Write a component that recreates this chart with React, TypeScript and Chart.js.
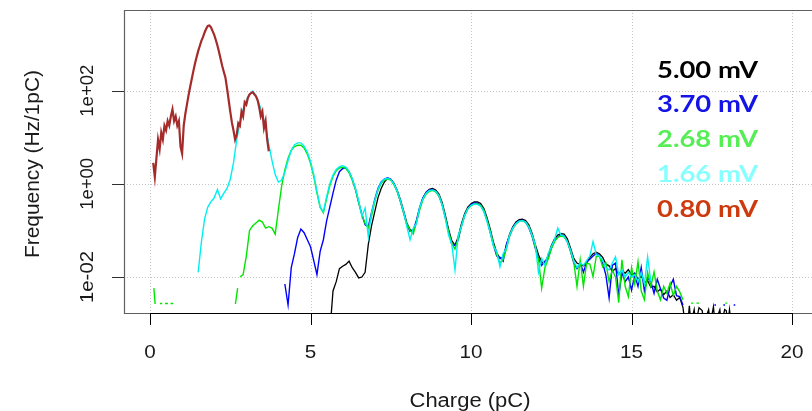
import { useEffect, useRef } from 'react';
import { Chart, registerables } from 'chart.js';

Chart.register(...registerables);

// ---- axis / legend text ----
const xTicks = [0, 5, 10, 15, 20];
const yTicks = [1e-2, 1, 1e2];
const yTickLabels = ['1e-02', '1e+00', '1e+02'];
const xTitle = 'Charge (pC)';
const yTitle = 'Frequency (Hz/1pC)';
const legendLabels = ['5.00 mV', '3.70 mV', '2.68 mV', '1.66 mV', '0.80 mV'];
const legendColors = ['#000000', '#1414e6', '#55ee55', '#88ffff', '#cc3a0e'];

// ---- data: log10(frequency) on a regular charge grid ----
const brownStart = 0.1;
const brownStep = 0.05;
const log080 = [0.45, 0.15, 0.55, 0.95, 0.75, 1.1, 0.95, 1.25, 1.15, 1.35, 1.25, 1.45, 1.6, 1.35, 1.45, 1.25, 1.35, 0.8, 0.65, 1.25,
  1.5, 1.7, 1.9, 2.08, 2.25, 2.42, 2.58, 2.72, 2.85, 2.96, 3.07, 3.15, 3.25, 3.33, 3.39, 3.4, 3.36, 3.28, 3.2, 3.09,
  2.97, 2.83, 2.68, 2.53, 2.4, 2.28, 2.05, 1.8, 1.55, 1.32, 1.15, 0.95, 1.05, 1.3, 1.25, 1.55, 1.45, 1.75, 1.7, 1.85,
  1.92, 1.95, 1.97, 1.92, 1.88, 1.8, 1.65, 1.45, 1.55, 1.2, 1.35, 0.95, 0.7];

const gridStep = 0.1;
const cyanStart = 1.5;
const log166 = [-1.9, -1.25, -0.75, -0.5, -0.38, -0.3, -0.12, -0.32, -0.2, -0.1, 0.1, 0.45, 0.95, 1.3, 1.6, 1.8, 1.92, 1.99, 1.9, 1.72,
  1.5, 1.22, 0.85, 0.5, 0.2, 0.04, 0.08, 0.25, 0.5, 0.72, 0.84, 0.88, 0.88, 0.81, 0.68, 0.48, 0.2, -0.16, -0.5, -0.6,
  -0.28, 0.0, 0.19, 0.31, 0.37, 0.39, 0.36, 0.27, 0.11, -0.1, -0.36, -0.7, -0.52, -1.13, -0.62, -0.36, -0.12, 0.03, 0.1, 0.12,
  0.09, 0.0, -0.15, -0.36, -0.6, -0.92, -1.2, -0.95, -0.85, -0.5, -0.32, -0.2, -0.14, -0.13, -0.16, -0.25, -0.45, -0.75, -1.1, -1.3,
  -1.85, -1.1, -0.92, -0.68, -0.53, -0.46, -0.43, -0.44, -0.48, -0.6, -0.82, -1.05, -1.35, -1.45, -1.78, -1.5, -1.38, -1.1, -0.95, -0.85,
  -0.8, -0.79, -0.82, -0.93, -1.1, -1.3, -1.9, -1.6, -1.75, -1.5, -1.35, -1.2, -0.95, -1.1, -1.12, -1.25, -1.42, -1.65, -1.8, -1.7,
  -1.75, -1.65, -1.55, -1.24, -1.52, -1.55, -1.65, -1.8, -1.85, -1.7, -1.57, -1.95, -1.85, -2.0, -1.9, -2.0, -1.95, -2.1, -1.9, -2.15,
  -1.57, -2.1];

const greenStart = 2.8;
const log268 = [-2.0, -1.95, -1.55, -1.0, -0.9, -0.84, -0.78, -0.82, -0.95, -0.92, -0.95, -1.08, -0.55, -0.05, 0.3, 0.55, 0.72, 0.8, 0.83, 0.83,
  0.77, 0.64, 0.44, 0.16, -0.2, -0.5, -0.62, -0.32, -0.04, 0.16, 0.28, 0.34, 0.36, 0.33, 0.24, 0.08, -0.12, -0.4, -0.66, -0.85,
  -0.95, -0.7, -0.38, -0.14, 0.01, 0.08, 0.1, 0.08, -0.02, -0.17, -0.37, -0.62, -0.86, -1.0, -1.08, -0.82, -0.55, -0.34, -0.22, -0.16,
  -0.14, -0.17, -0.26, -0.44, -0.72, -1.02, -1.28, -1.4, -1.18, -0.9, -0.68, -0.54, -0.47, -0.43, -0.43, -0.46, -0.57, -0.78, -1.02, -1.3,
  -1.52, -1.7, -1.62, -1.4, -1.12, -0.96, -0.86, -0.8, -0.79, -0.82, -0.92, -1.1, -1.36, -1.62, -2.24, -1.8, -1.62, -1.4, -1.24, -1.15,
  -1.12, -1.14, -1.24, -1.45, -1.68, -2.2, -1.63, -2.2, -1.7, -1.72, -1.99, -1.56, -1.55, -1.78, -1.7, -2.1, -1.85, -2.0, -2.55, -1.63,
  -2.2, -2.42, -1.8, -2.15, -1.67, -2.3, -2.49, -1.9, -2.2, -1.89, -2.3, -2.49, -2.2, -2.35, -2.13, -2.4, -2.2, -2.32, -2.49];
const bits268: ([number, number] | null)[] = [
  [0.12, -2.24], [0.16, -2.58], null,
  [0.31, -2.57], [0.38, -2.57], null,
  [0.47, -2.57], [0.56, -2.57], null,
  [0.64, -2.57], [0.72, -2.57], null,
  [2.66, -2.58], [2.73, -2.24], null,
  [16.85, -2.56], [16.92, -2.56], null,
  [17.02, -2.56], [17.1, -2.56], null,
  [17.92, -2.56], [17.98, -2.56],
];

const blueStart = 4.2;
const log370 = [-2.15, -2.6, -1.8, -1.5, -1.15, -0.97, -1.05, -1.2, -1.35, -1.65, -1.95, -1.45, -1.2, -0.8, -0.5, -0.2, 0.08, 0.26, 0.33, 0.34,
  0.26, 0.1, -0.12, -0.4, -0.66, -0.88, -0.92, -0.62, -0.34, -0.1, 0.04, 0.1, 0.13, 0.1, 0.0, -0.16, -0.38, -0.62, -0.88, -1.02,
  -1.0, -0.78, -0.5, -0.3, -0.19, -0.13, -0.12, -0.16, -0.26, -0.45, -0.72, -1.02, -1.3, -1.32, -1.2, -0.9, -0.68, -0.53, -0.45, -0.41,
  -0.42, -0.46, -0.58, -0.78, -1.05, -1.32, -1.55, -1.58, -1.66, -1.3, -1.12, -0.95, -0.84, -0.79, -0.78, -0.82, -0.94, -1.12, -1.38, -1.6,
  -1.75, -1.66, -1.6, -1.38, -1.22, -1.14, -1.1, -1.12, -1.24, -1.45, -1.7, -1.82, -1.7, -1.9, -1.68, -1.62, -1.55, -1.5, -1.55, -1.7,
  -1.96, -2.45, -1.75, -1.7, -2.4, -1.9, -2.1, -2.0, -2.28, -1.95, -2.2, -1.8, -2.3, -2.02, -2.1, -2.35, -2.05, -2.25, -2.45, -2.5,
  -2.2, -2.05, -2.4, -2.42, -2.6];
const bits370: ([number, number] | null)[] = [
  [17.58, -2.6], [17.63, -2.6], null,
  [17.86, -2.6], [17.91, -2.6], null,
  [18.18, -2.6], [18.23, -2.6],
];

const blackStart = 5.6;
const log500 = [-3.2, -2.3, -2.1, -1.82, -1.77, -1.73, -1.66, -1.8, -1.9, -2.02, -2.0, -1.9, -1.3, -0.9, -0.6, -0.3, -0.1, 0.04, 0.12, 0.1,
  0.01, -0.14, -0.34, -0.58, -0.84, -0.98, -1.02, -0.82, -0.53, -0.31, -0.18, -0.12, -0.1, -0.13, -0.22, -0.4, -0.68, -0.98, -1.22, -1.32,
  -1.14, -0.86, -0.64, -0.5, -0.43, -0.39, -0.39, -0.42, -0.53, -0.73, -0.98, -1.26, -1.48, -1.6, -1.58, -1.33, -1.08, -0.92, -0.82, -0.77,
  -0.76, -0.79, -0.88, -1.06, -1.3, -1.52, -1.68, -1.7, -1.55, -1.33, -1.18, -1.1, -1.07, -1.08, -1.18, -1.38, -1.6, -1.7, -1.74, -1.76,
  -1.7, -1.58, -1.5, -1.47, -1.5, -1.58, -1.72, -1.76, -1.88, -1.82, -1.94, -1.86, -1.92, -1.84, -1.96, -1.92, -2.05, -1.98, -2.12, -2.08,
  -2.22, -2.2, -2.32, -2.26, -2.38, -2.3, -2.44, -2.38, -2.5, -2.44, -2.65, -3.2];
const bits500: ([number, number] | null)[] = [
  [16.75, -3.0], [16.8, -2.62], [16.85, -3.0], [16.95, -2.7], [17.0, -3.0], [17.1, -2.66], [17.2, -2.72], [17.25, -3.0],
  [17.4, -2.7], [17.45, -3.0], [17.55, -2.64], [17.6, -3.0], [17.75, -2.7], [17.8, -3.0], [17.9, -2.7], [17.95, -2.72],
  [18.0, -3.0], [18.05, -2.7], [18.1, -3.0],
];

// ---- plot frame geometry ----
const W = 812;
const H = 411;
const PLOT_LEFT = 124;
const PLOT_TOP = 10;
const PLOT_BOTTOM = 313;
const X_MIN = -0.81;
const X_MAX = 20.62;
const LOG_MIN = -2.773;
const LOG_MAX = 3.733;

function toSeries(start: number, step: number, logs: number[]) {
  return logs.map((v, i) => ({ x: +(start + i * step).toFixed(3), y: Math.pow(10, v) }));
}
function toBits(pairs: ([number, number] | null)[]) {
  const out: { x: number; y: number | null }[] = [];
  let last = 0;
  for (const p of pairs) {
    if (p === null) out.push({ x: last + 0.001, y: null });
    else {
      last = p[0];
      out.push({ x: p[0], y: Math.pow(10, p[1]) });
    }
  }
  return out;
}

function drawFit(
  ctx: CanvasRenderingContext2D, text: string, x: number, y: number, font: string,
  width: number | null, align: CanvasTextAlign, rot: number, color: string,
) {
  ctx.save();
  ctx.font = font;
  ctx.fillStyle = color;
  const w = ctx.measureText(text).width;
  const sx = width ? width / w : 1;
  ctx.translate(x, y);
  if (rot) ctx.rotate(rot);
  ctx.scale(sx, 1);
  ctx.textAlign = align;
  ctx.textBaseline = 'alphabetic';
  ctx.fillText(text, 0, 0);
  ctx.restore();
}

const framePlugin = {
  id: 'rframe',
  beforeDatasetsDraw(chart: any) {
    const { ctx, chartArea, scales } = chart;
    ctx.save();
    ctx.strokeStyle = '#c4c4c4';
    ctx.lineWidth = 1;
    ctx.setLineDash([1, 2]);
    for (const t of xTicks) {
      const px = Math.round(scales.x.getPixelForValue(t)) + 0.5;
      ctx.beginPath();
      ctx.moveTo(px, chartArea.top);
      ctx.lineTo(px, chartArea.bottom);
      ctx.stroke();
    }
    for (const t of yTicks) {
      const py = Math.round(scales.y.getPixelForValue(t)) + 0.5;
      ctx.beginPath();
      ctx.moveTo(chartArea.left, py);
      ctx.lineTo(chartArea.right, py);
      ctx.stroke();
    }
    ctx.restore();
  },
  afterDraw(chart: any) {
    const { ctx, chartArea, scales } = chart;
    ctx.save();
    // box
    ctx.strokeStyle = '#606060';
    ctx.lineWidth = 1.2;
    ctx.beginPath();
    ctx.moveTo(chartArea.right + 2, chartArea.top + 0.5);
    ctx.lineTo(chartArea.left + 0.5, chartArea.top + 0.5);
    ctx.lineTo(chartArea.left + 0.5, chartArea.bottom + 0.5);
    ctx.lineTo(chartArea.right + 2, chartArea.bottom + 0.5);
    ctx.stroke();
    // x axis
    ctx.strokeStyle = '#000000';
    ctx.lineWidth = 1;
    const x0 = scales.x.getPixelForValue(xTicks[0]);
    const x1 = scales.x.getPixelForValue(xTicks[xTicks.length - 1]);
    ctx.beginPath();
    ctx.moveTo(x0, chartArea.bottom + 0.5);
    ctx.lineTo(x1, chartArea.bottom + 0.5);
    ctx.stroke();
    for (const t of xTicks) {
      const px = Math.round(scales.x.getPixelForValue(t)) + 0.5;
      ctx.beginPath();
      ctx.moveTo(px, chartArea.bottom);
      ctx.lineTo(px, chartArea.bottom + 12);
      ctx.stroke();
    }
    // y axis ticks
    ctx.strokeStyle = '#303030';
    for (const t of yTicks) {
      const py = Math.round(scales.y.getPixelForValue(t)) + 0.5;
      ctx.beginPath();
      ctx.moveTo(chartArea.left - 12, py);
      ctx.lineTo(chartArea.left, py);
      ctx.stroke();
    }
    ctx.restore();

    const tickFont = '18px "Liberation Sans", Arial, sans-serif';
    ctx.save();
    ctx.font = tickFont;
    const sx10 = 23 / ctx.measureText('10').width;
    ctx.restore();
    for (const t of xTicks) {
      const px = scales.x.getPixelForValue(t);
      const label = String(t);
      ctx.save();
      ctx.font = tickFont;
      const w = ctx.measureText(label).width * sx10;
      ctx.restore();
      drawFit(ctx, label, px, 358, tickFont, w, 'center', 0, '#1a1a1a');
    }
    yTicks.forEach((t, i) => {
      const py = scales.y.getPixelForValue(t);
      drawFit(ctx, yTickLabels[i], 92.5, py, tickFont, 52, 'center', -Math.PI / 2, '#1a1a1a');
    });
    const titleFont = '20px "Liberation Sans", Arial, sans-serif';
    drawFit(ctx, xTitle, 470, 407, titleFont, 121, 'center', 0, '#1a1a1a');
    drawFit(ctx, yTitle, 38.5, 164, titleFont, 188, 'center', -Math.PI / 2, '#1a1a1a');

    const legFont = 'bold 22px Lato, "Open Sans", sans-serif';
    legendLabels.forEach((lab, i) => {
      drawFit(ctx, lab, 657, 77.5 + i * 34.8, legFont, 101, 'left', 0, legendColors[i]);
    });
  },
};

export default function App() {
  const ref = useRef<HTMLCanvasElement | null>(null);
  useEffect(() => {
    if (!ref.current) return;
    const line = (data: any[], color: string, width: number, order: number) => ({
      data,
      borderColor: color,
      backgroundColor: color,
      borderWidth: width,
      pointRadius: 0,
      tension: 0,
      spanGaps: false,
      fill: false,
      order,
    });
    const chart = new Chart(ref.current, {
      type: 'line',
      data: {
        datasets: [
          line(toSeries(brownStart, brownStep, log080), '#a52a2a', 2.2, 1),
          line(toSeries(cyanStart, gridStep, log166), '#00f0f0', 1.4, 2),
          line(toSeries(greenStart, gridStep, log268), '#00e600', 1.4, 3),
          line(toBits(bits268), '#00e600', 1.4, 3),
          line(toSeries(blueStart, gridStep, log370), '#0000ff', 1.4, 4),
          line(toBits(bits370), '#0000ff', 1.4, 4),
          line(toSeries(blackStart, gridStep, log500), '#000000', 1.3, 5),
          line(toBits(bits500), '#000000', 1.3, 5),
        ] as any,
      },
      options: {
        animation: false,
        responsive: false,
        devicePixelRatio: 1,
        parsing: true,
        layout: { padding: { left: PLOT_LEFT, top: PLOT_TOP, right: 0, bottom: H - PLOT_BOTTOM } },
        plugins: { legend: { display: false }, tooltip: { enabled: false }, title: { display: false } },
        scales: {
          x: { type: 'linear', display: false, min: X_MIN, max: X_MAX },
          y: { type: 'logarithmic', display: false, min: Math.pow(10, LOG_MIN), max: Math.pow(10, LOG_MAX) },
        },
      } as any,
      plugins: [framePlugin],
    });
    return () => chart.destroy();
  }, []);
  return (
    <div style={{ position: 'fixed', left: 0, top: 0, width: W, height: H, background: '#ffffff' }}>
      <canvas ref={ref} width={W} height={H} style={{ display: 'block', width: W, height: H }} />
    </div>
  );
}
